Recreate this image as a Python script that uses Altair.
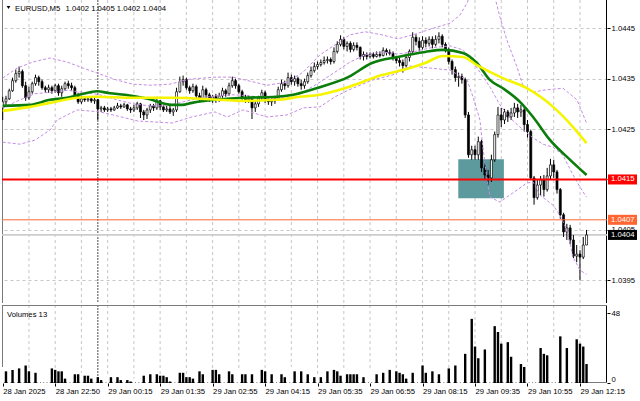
import altair as alt
import pandas as pd

FONT = "Liberation Sans"
FS = 7.7
POINT = 0.00001          # prices below are given in points (1/100000)
W, H_PRICE, H_VOL = 605, 303, 78

# ---------------- candles (EURUSD M5), prices in points ----------------
OPEN_FIRST = 104292
CLOSE = [
    104304, 104310, 104326, 104346, 104360, 104364, 104336, 104312, 104324, 104340,
    104352, 104344, 104332, 104328, 104332, 104326, 104336, 104322, 104330, 104340,
    104336, 104332, 104316, 104304, 104310, 104308, 104310, 104306, 104308, 104290,
    104292, 104288, 104290, 104288, 104292, 104296, 104294, 104298, 104290, 104288,
    104292, 104300, 104284, 104278, 104288, 104296, 104292, 104306, 104294, 104288,
    104290, 104284, 104288, 104324, 104344, 104348, 104332, 104326, 104334, 104316,
    104312, 104328, 104318, 104310, 104314, 104308, 104316, 104326, 104320, 104336,
    104346, 104336, 104324, 104312, 104308, 104310, 104292, 104300, 104312, 104322,
    104308, 104304, 104306, 104310, 104328, 104340, 104336, 104352, 104344, 104350,
    104340, 104336, 104344, 104356, 104366, 104374, 104378, 104382, 104386, 104388,
    104384, 104404, 104418, 104428, 104414, 104420, 104408, 104416, 104412, 104394,
    104398, 104394, 104398, 104394, 104398, 104396, 104406, 104402, 104400, 104390,
    104386, 104382, 104376, 104392, 104404, 104432, 104424, 104412, 104426, 104420,
    104428, 104418, 104428, 104434, 104418, 104408, 104384, 104368, 104352, 104354,
    104348, 104278, 104199, 104209, 104199, 104225, 104173, 104159, 104153, 104189,
    104239, 104278, 104268, 104284, 104274, 104282, 104292, 104284, 104288, 104259,
    104245, 104153, 104114, 104139, 104149, 104130, 104157, 104179, 104165, 104130,
    104080, 104046, 104054, 104030, 103998, 104002, 103996, 104020, 104040,
]
HIGH = [
    104314, 104316, 104330, 104352, 104368, 104374, 104368, 104344, 104334, 104344,
    104358, 104356, 104348, 104336, 104338, 104336, 104340, 104340, 104336, 104344,
    104346, 104342, 104336, 104322, 104316, 104314, 104314, 104312, 104312, 104310,
    104296, 104296, 104294, 104294, 104296, 104302, 104300, 104302, 104300, 104294,
    104298, 104304, 104302, 104288, 104292, 104300, 104300, 104314, 104308, 104298,
    104296, 104298, 104292, 104332, 104354, 104356, 104352, 104336, 104340, 104338,
    104322, 104336, 104332, 104322, 104318, 104320, 104322, 104332, 104330, 104342,
    104354, 104350, 104340, 104328, 104318, 104316, 104312, 104306, 104316, 104328,
    104326, 104314, 104312, 104316, 104334, 104348, 104346, 104362, 104358, 104356,
    104354, 104348, 104350, 104362, 104374, 104382, 104384, 104388, 104394, 104394,
    104392, 104412, 104424, 104436, 104432, 104424, 104424, 104422, 104422, 104414,
    104404, 104402, 104402, 104402, 104404, 104404, 104412, 104410, 104408, 104404,
    104394, 104392, 104388, 104398, 104408, 104442, 104438, 104432, 104434, 104432,
    104434, 104434, 104436, 104442, 104438, 104422, 104412, 104388, 104374, 104362,
    104360, 104352, 104284, 104217, 104217, 104235, 104229, 104183, 104169, 104199,
    104245, 104294, 104292, 104290, 104288, 104292, 104302, 104300, 104298, 104294,
    104268, 104249, 104157, 104149, 104157, 104159, 104173, 104191, 104189, 104169,
    104133, 104084, 104062, 104060, 104040, 104020, 104010, 104036, 104050,
]
LOW = [
    104268, 104296, 104308, 104324, 104342, 104352, 104332, 104306, 104308, 104320,
    104336, 104336, 104328, 104322, 104322, 104320, 104322, 104316, 104314, 104326,
    104330, 104326, 104312, 104300, 104300, 104304, 104304, 104302, 104300, 104268,
    104284, 104284, 104284, 104284, 104286, 104290, 104290, 104292, 104286, 104282,
    104284, 104288, 104272, 104268, 104270, 104282, 104286, 104288, 104288, 104284,
    104284, 104280, 104276, 104284, 104322, 104336, 104328, 104320, 104322, 104310,
    104306, 104310, 104312, 104304, 104302, 104302, 104304, 104312, 104314, 104316,
    104332, 104330, 104320, 104306, 104302, 104302, 104270, 104284, 104294, 104306,
    104302, 104298, 104296, 104300, 104306, 104324, 104328, 104332, 104338, 104336,
    104334, 104328, 104330, 104340, 104352, 104362, 104368, 104374, 104378, 104380,
    104378, 104380, 104400, 104414, 104408, 104404, 104402, 104404, 104406, 104388,
    104386, 104388, 104390, 104390, 104392, 104392, 104394, 104396, 104396, 104386,
    104380, 104374, 104362, 104372, 104384, 104400, 104416, 104404, 104408, 104412,
    104414, 104410, 104414, 104420, 104412, 104402, 104378, 104358, 104344, 104334,
    104340, 104272, 104193, 104189, 104189, 104189, 104165, 104149, 104139, 104145,
    104185, 104233, 104254, 104260, 104264, 104268, 104274, 104272, 104274, 104245,
    104233, 104149, 104100, 104110, 104118, 104116, 104126, 104149, 104153, 104122,
    104072, 104036, 104030, 104022, 103994, 103986, 103950, 103992, 104020,
]
VOLUME = [
    11, 8, 10, 9, 11, 10, 19, 12, 8, 9, 7, 8, 9, 10, 11, 10, 9, 8, 8,
    3, 6, 9, 6, 6, 7, 5, 5, 3, 5, 4, 2, 5, 6, 4, 5, 4, 2, 3, 2, 1,
    3, 5, 8, 5, 6, 6, 7, 6, 5, 5, 4, 1, 5, 8, 7, 7, 4, 4, 3, 23,
    8, 6, 9, 14, 9, 9, 6, 8, 9, 8, 6, 8, 9, 6, 6, 7, 6, 8, 11, 9,
    8, 9, 6, 9, 10, 6, 4, 10, 11, 8, 11, 8, 11, 6, 8, 4,
    6,
    4, 9, 8, 11, 9, 8, 5, 9, 6, 6, 6, 6, 8, 4, 5, 10, 11, 6, 7, 7,
    10, 9, 10, 8, 7, 6, 3, 9, 7, 13, 14, 12, 7, 9, 8, 9, 6, 7, 17, 10,
    19, 12, 26, 29, 20, 46, 44, 25, 17, 24, 23, 44, 48, 39, 35, 27, 34, 28, 18, 23,
    26, 13, 11, 12, 16, 27, 36, 24, 20, 19, 30, 31, 39, 32, 40, 24, 30, 43, 30, 27,
    25, 13,
]

# ---------------- indicators (read at sample bars) ----------------
GREEN_MA_BAR = [0, 8.3, 14.4, 19.6, 24.5, 28.7, 32.7, 37.3, 44.3, 51.6, 54.7, 57.7, 64.7, 73.3, 83.6, 88.5,
                93.7, 96.7, 105.3, 112.6, 120.5, 128.8, 134.2, 140.3, 144.6, 148.6, 152.5, 157.7, 161.7,
                166.9, 173.0, 178]
GREEN_MA = [1.04296, 1.04298, 1.04308, 1.04312, 1.04320, 1.04325, 1.04321, 1.04318, 1.04310, 1.04298,
            1.04298, 1.04302, 1.04308, 1.04312, 1.04314, 1.04318, 1.04327, 1.04333, 1.04353, 1.04381,
            1.04393, 1.04403, 1.04407, 1.04401, 1.04381, 1.04347, 1.04331, 1.04304, 1.04274, 1.04228,
            1.04189, 1.04159]
YELLOW_MA_BAR = [0, 8.3, 14.4, 22.7, 28.7, 39.7, 51.9, 66.3, 73.3, 83.6, 90.6, 96.7, 105.3, 115.6, 124.2,
                 128.8, 134.2, 140.3, 144.6, 152.5, 159.8, 167.8, 173.9, 178]
YELLOW_MA = [1.04286, 1.04294, 1.04302, 1.04312, 1.04314, 1.04312, 1.04312, 1.04308, 1.04306, 1.04308,
             1.04314, 1.04318, 1.04333, 1.04357, 1.04371, 1.04381, 1.04395, 1.04393, 1.04377, 1.04351,
             1.04331, 1.04294, 1.04254, 1.04222]
BB_UP_BAR = [0, 4.4, 9.2, 14.4, 19.6, 24.5, 29.7, 34.9, 39.7, 44.9, 51.0, 57.1, 64.7, 70.2, 75.4, 80.6, 86.7,
             91.6, 96.7, 101.3, 105.9, 110.5, 115.6, 120.5, 125.1, 130.3, 136.4, 139.4, 141.6, 144.0, 147.0,
             149.5, 151.6, 153.7, 156.8, 158.6, 161.7, 164.7, 170.8, 175.1, 178]
BB_UP = [1.04351, 1.04371, 1.04383, 1.04391, 1.04383, 1.04371, 1.04359, 1.04347, 1.04339, 1.04337, 1.04339,
         1.04349, 1.04353, 1.04353, 1.04345, 1.04337, 1.04343, 1.04363, 1.04397, 1.04417, 1.04437, 1.04443,
         1.04437, 1.04429, 1.04437, 1.04448, 1.04460, 1.04476, 1.04500, 1.04546, 1.04575, 1.04526, 1.04472,
         1.04427, 1.04373, 1.04337, 1.04323, 1.04327, 1.04331, 1.04308, 1.04262]
BB_MID_BAR = [0, 5.3, 9.8, 14.4, 19.6, 24.5, 29.7, 34.9, 39.7, 44.9, 50.1, 55.0, 60.2, 65.3, 70.2, 75.4, 80.6,
              86.7, 91.6, 96.7, 101.3, 105.9, 110.5, 115.6, 120.5, 125.1, 130.3, 136.4, 140.3, 142.5, 145.5,
              148.6, 151.6, 154.7, 157.7, 161.4, 164.7, 167.8, 170.8, 173.9, 176.0, 178]
BB_MID = [1.04292, 1.04308, 1.04320, 1.04323, 1.04327, 1.04323, 1.04318, 1.04308, 1.04300, 1.04296, 1.04296,
          1.04304, 1.04312, 1.04316, 1.04318, 1.04316, 1.04310, 1.04312, 1.04323, 1.04343, 1.04363, 1.04383,
          1.04397, 1.04403, 1.04399, 1.04403, 1.04411, 1.04415, 1.04407, 1.04391, 1.04363, 1.04333, 1.04298,
          1.04272, 1.04254, 1.04234, 1.04220, 1.04214, 1.04198, 1.04159, 1.04135, 1.04115]
BB_LOW_BAR = [0, 5.3, 9.8, 14.4, 16.6, 22.7, 29.7, 34.9, 41.2, 51.6, 57.7, 64.7, 68.4, 73.3, 80.6, 86.7, 91.6,
              96.7, 101.3, 105.3, 112.6, 118.7, 124.2, 130.3, 136.4, 141.6, 143.4, 145.5, 146.4, 147.7, 148.6,
              151.6, 153.7, 156.8, 159.8, 161.7, 163.8, 167.8, 169.9, 172.0, 173.9, 176.0, 178]
BB_LOW = [1.04224, 1.04220, 1.04228, 1.04248, 1.04268, 1.04288, 1.04284, 1.04276, 1.04266, 1.04262, 1.04274,
          1.04284, 1.04274, 1.04288, 1.04274, 1.04278, 1.04292, 1.04294, 1.04314, 1.04327, 1.04347, 1.04357,
          1.04375, 1.04371, 1.04367, 1.04347, 1.04314, 1.04268, 1.04214, 1.04149, 1.04115, 1.04105, 1.04115,
          1.04129, 1.04143, 1.04145, 1.04119, 1.04099, 1.04079, 1.04050, 1.03996, 1.03970, 1.03962]

# ---------------- annotations / labels ----------------
TIME_LABELS = ["28 Jan 2025", "28 Jan 22:50", "29 Jan 00:15", "29 Jan 01:35", "29 Jan 02:55",
               "29 Jan 04:15", "29 Jan 05:35", "29 Jan 06:55", "29 Jan 08:15", "29 Jan 09:35",
               "29 Jan 10:55", "29 Jan 12:15"]
LABEL_EVERY = 16
GRID_BARS = list(range(8, 184, 8))
DAY_SEPARATOR_BAR = [29]
PRICE_TICKS = [1.0395, 1.0405, 1.0415, 1.0425, 1.0435, 1.0445]
VOLUME_TICKS = [0, 48]
RED_LEVEL = [1.0415]
ORANGE_LEVEL = [1.0407]
BID_LEVEL = [1.0404]
TAG_PRICES = [1.0415, 1.0407, 1.0404]
TAG_TEXTS = ["1.0415", "1.0407", "1.0404"]
TAG_COLORS = ["#ff0000", "#ff6633", "#000000"]
BOX_BARS = [138.9, 152.8]
BOX_PRICES = [1.04113, 1.04190]
TITLE_SYMBOL = "EURUSD,M5"
TITLE_OHLC = "1.0402 1.0405 1.0402 1.0404"
VOLUME_TITLE = "Volumes 13"

# ---------------- tables ----------------
n = len(CLOSE)
opens = [OPEN_FIRST] + CLOSE[:-1]
candles = pd.DataFrame({
    "bar": list(range(n)),
    "open": [v * POINT for v in opens],
    "close": [v * POINT for v in CLOSE],
    "high": [v * POINT for v in HIGH],
    "low": [v * POINT for v in LOW],
    "dir": ["up" if c > o else "down" for o, c in zip(opens, CLOSE)],
})
vols = pd.DataFrame({
    "bar": list(range(len(VOLUME))),
    "vol": VOLUME,
    "dir": ["up" if k == 0 or VOLUME[k] > VOLUME[k - 1] else "down" for k in range(len(VOLUME))],
})

def line_df(bars, vals):
    return pd.DataFrame({"bar": bars, "p": vals})

xs = alt.Scale(domain=[-0.213, 184.24], nice=False, zero=False, padding=0)
ys = alt.Scale(domain=[1.03905, 1.04506], nice=False, zero=False, padding=0)
vs = alt.Scale(domain=[0, 53.5], nice=False, zero=True, padding=0)

price_axis = alt.Axis(orient="right", values=PRICE_TICKS, format=".4f", grid=True, gridDash=[3, 3],
                      gridColor="#c6c6c6", gridWidth=1, tickSize=3, tickColor="black", domain=False,
                      labelFont=FONT, labelFontSize=FS, labelColor="black", labelPadding=1, title=None, zindex=0)
label_expr = "[" + ",".join(f"'{s}'" for s in TIME_LABELS) + f"][round(datum.value / {LABEL_EVERY})]"
time_axis = alt.Axis(values=[LABEL_EVERY * k for k in range(len(TIME_LABELS))], labelExpr=label_expr,
                     labelAlign="left", labelBaseline="top", labelPadding=1, labelFlush=False,
                     labelOverlap=False, tickSize=3, tickColor="black", domain=False, grid=False,
                     labelFont=FONT, labelFontSize=FS, labelColor="black", title=None)
v_axis = alt.Axis(orient="right", values=VOLUME_TICKS, grid=False, tickSize=3, tickColor="black",
                  domain=False, labelFlush=True, labelPadding=1, labelFont=FONT, labelFontSize=FS,
                  labelColor="black", title=None)

X = lambda f="bar": alt.X(f"{f}:Q", scale=xs, axis=None)
Y = lambda f="p": alt.Y(f"{f}:Q", scale=ys, axis=price_axis)
XV = lambda f="bar": alt.X(f"{f}:Q", scale=xs, axis=time_axis)

def frame_layers(xenc, height, top=False, bottom=False):
    one = pd.DataFrame({"a": [0]})
    out = [
        alt.Chart(pd.DataFrame({"bar": GRID_BARS})).mark_rule(
            color="#c6c6c6", strokeDash=[3, 3], strokeWidth=1, clip=True).encode(x=xenc()),
        alt.Chart(pd.DataFrame({"bar": DAY_SEPARATOR_BAR})).mark_rule(
            color="#6a6a6a", strokeDash=[2, 1], strokeWidth=1.2, clip=True).encode(x=xenc()),
        alt.Chart(one).mark_rule(color="#7a7a7a", strokeWidth=1, clip=True).encode(x=alt.value(0.5)),
        alt.Chart(one).mark_rule(color="black", strokeWidth=1, clip=True).encode(x=alt.value(W - 0.5)),
    ]
    if top:
        out.append(alt.Chart(one).mark_rule(color="#7a7a7a", strokeWidth=1, clip=True).encode(
            y=alt.value(0.5), x=alt.value(0), x2=alt.value(W)))
    if bottom:
        out.append(alt.Chart(one).mark_rule(color="#7a7a7a", strokeWidth=1, clip=True).encode(
            y=alt.value(height - 0.5), x=alt.value(0), x2=alt.value(W)))
    return out

box = alt.Chart(pd.DataFrame({"x1": [BOX_BARS[0]], "x2": [BOX_BARS[1]],
                              "y1": [BOX_PRICES[0]], "y2": [BOX_PRICES[1]]})).mark_rect(
    color="#5c9a9e", clip=True).encode(x=X("x1"), x2="x2:Q", y=Y("y1"), y2="y2:Q")

bid = alt.Chart(pd.DataFrame({"p": BID_LEVEL})).mark_rule(color="#cccccc", strokeWidth=1.8, clip=True).encode(
    y=Y(), x=alt.value(0), x2=alt.value(W))

wicks = alt.Chart(candles).mark_rule(color="black", strokeWidth=1, clip=True).encode(
    x=X(), y=Y("low"), y2="high:Q")
bodies = alt.Chart(candles).mark_bar(size=2.0, stroke="black", strokeWidth=0.7, clip=True).encode(
    x=X(), y=Y("open"), y2="close:Q",
    color=alt.Color("dir:N", scale=alt.Scale(domain=["up", "down"], range=["white", "black"]), legend=None))

band_style = dict(color="#c58be6", strokeDash=[3, 2], strokeWidth=1, clip=True)
bb_up = alt.Chart(line_df(BB_UP_BAR, BB_UP)).mark_line(**band_style).encode(x=X(), y=Y())
bb_mid = alt.Chart(line_df(BB_MID_BAR, BB_MID)).mark_line(**band_style).encode(x=X(), y=Y())
bb_low = alt.Chart(line_df(BB_LOW_BAR, BB_LOW)).mark_line(**band_style).encode(x=X(), y=Y())
green = alt.Chart(line_df(GREEN_MA_BAR, GREEN_MA)).mark_line(
    color="#0b7d0b", strokeWidth=2.6, interpolate="monotone", clip=True).encode(x=X(), y=Y())
yellow = alt.Chart(line_df(YELLOW_MA_BAR, YELLOW_MA)).mark_line(
    color="#f5f500", strokeWidth=2.6, interpolate="monotone", clip=True).encode(x=X(), y=Y())

red_line = alt.Chart(pd.DataFrame({"p": RED_LEVEL})).mark_rule(color="#ff0000", strokeWidth=2, clip=True).encode(
    y=Y(), x=alt.value(0), x2=alt.value(W))
orange_line = alt.Chart(pd.DataFrame({"p": ORANGE_LEVEL})).mark_rule(
    color="#ff6633", strokeWidth=1, clip=True).encode(y=Y(), x=alt.value(0), x2=alt.value(W))

tags = pd.DataFrame({"p": TAG_PRICES, "t": TAG_TEXTS, "c": TAG_COLORS})
tag_boxes = alt.Chart(tags).mark_rect(yOffset=-5, y2Offset=5).encode(
    x=alt.value(W + 1), x2=alt.value(W + 30), y=Y(), y2="p:Q", color=alt.Color("c:N", scale=None))
tag_text = alt.Chart(tags).mark_text(align="left", baseline="middle", color="white", font=FONT,
                                     fontSize=FS).encode(x=alt.value(W + 4), y=Y(), text="t:N")

tri = alt.Chart(pd.DataFrame({"a": [0]})).mark_point(shape="triangle-down", filled=True, size=14,
                                                      color="black", opacity=1).encode(
    x=alt.value(6.5), y=alt.value(7.5))
title1 = alt.Chart(pd.DataFrame({"t": [TITLE_SYMBOL]})).mark_text(
    align="left", baseline="middle", font=FONT, fontSize=FS, color="black").encode(
    x=alt.value(13), y=alt.value(8.5), text="t:N")
title2 = alt.Chart(pd.DataFrame({"t": [TITLE_OHLC]})).mark_text(
    align="left", baseline="middle", font=FONT, fontSize=FS, color="black").encode(
    x=alt.value(63.5), y=alt.value(8.5), text="t:N")

price = alt.layer(*frame_layers(X, H_PRICE), box, bid, wicks, bodies, bb_up, bb_mid, bb_low, green, yellow,
                  red_line, orange_line, tag_boxes, tag_text, tri, title1, title2).properties(
    width=W, height=H_PRICE)

# ---------------- volume panel ----------------
vbars = alt.Chart(vols).mark_bar(size=2.4, clip=True).encode(
    x=XV(),
    y=alt.Y("vol:Q", scale=vs, axis=v_axis),
    color=alt.Color("dir:N", scale=alt.Scale(domain=["up", "down"], range=["#078a07", "#ff1a1a"]),
                    legend=None))
vtitle = alt.Chart(pd.DataFrame({"t": [VOLUME_TITLE]})).mark_text(
    align="left", baseline="middle", font=FONT, fontSize=FS, color="black").encode(
    x=alt.value(5), y=alt.value(10), text="t:N")

volume = alt.layer(*frame_layers(XV, H_VOL, top=True, bottom=True), vbars, vtitle).properties(
    width=W, height=H_VOL)

chart = alt.vconcat(price, volume, spacing=2).properties(
    padding={"left": 2, "top": 0, "right": 0, "bottom": 0}, background="white"
).configure_view(strokeWidth=0)

chart.save("out.html", embed_options={"renderer": "svg", "actions": False})
